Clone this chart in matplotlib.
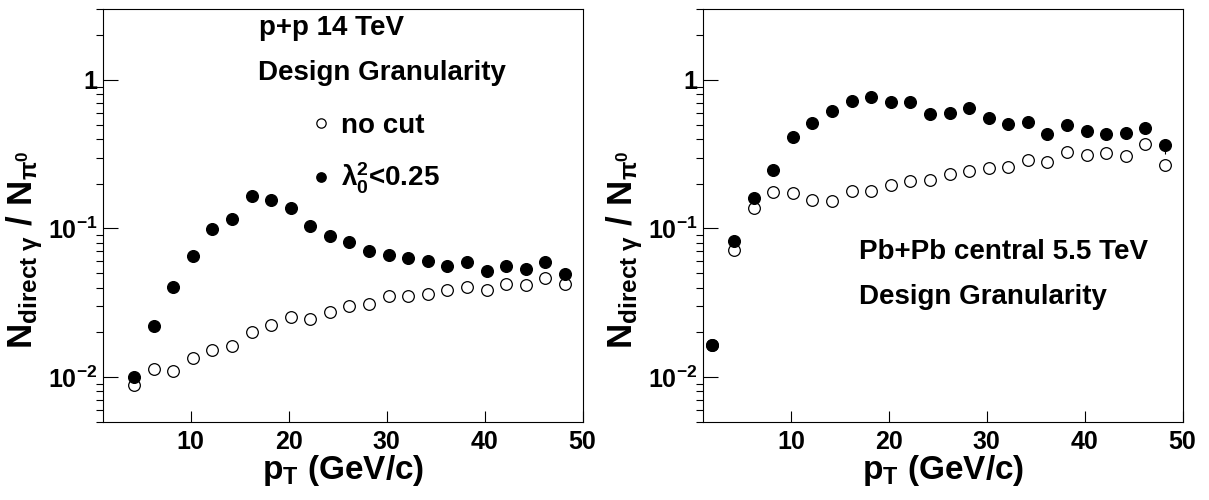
import matplotlib
matplotlib.use('Agg')
import math
import matplotlib.pyplot as plt
from matplotlib.ticker import FixedLocator, LogLocator, FuncFormatter, NullFormatter

plt.rcParams['font.family'] = 'Liberation Sans'
plt.rcParams['font.weight'] = 'bold'
plt.rcParams['axes.labelweight'] = 'bold'
plt.rcParams['mathtext.fontset'] = 'custom'
plt.rcParams['mathtext.rm'] = 'Liberation Sans:bold'
plt.rcParams['mathtext.it'] = 'Liberation Sans:bold'
plt.rcParams['mathtext.bf'] = 'Liberation Sans:bold'
plt.rcParams['mathtext.default'] = 'rm'

# p+p 14 TeV (left panel)
pt_pp = [4.2, 6.2, 8.2, 10.2, 12.2, 14.2, 16.2, 18.2, 20.2, 22.2, 24.2, 26.2,
         28.2, 30.2, 32.2, 34.2, 36.2, 38.2, 40.2, 42.2, 44.2, 46.2, 48.2]
pp_nocut = [0.0088, 0.0113, 0.0110, 0.0135, 0.0153, 0.0162, 0.0200, 0.0225,
            0.0253, 0.0247, 0.0275, 0.0300, 0.0309, 0.0350, 0.0352, 0.0362,
            0.0385, 0.0404, 0.0388, 0.0425, 0.0418, 0.0463, 0.0421]
pp_cut = [0.0100, 0.0221, 0.0402, 0.0649, 0.0985, 0.1154, 0.1655, 0.155,
          0.1368, 0.104, 0.0883, 0.0809, 0.0707, 0.0666, 0.0636, 0.0607,
          0.0556, 0.0594, 0.0514, 0.0561, 0.0531, 0.0594, 0.0491]

# Pb+Pb central 5.5 TeV (right panel)
pt_pbpb = [2.0, 4.2, 6.2, 8.2, 10.2, 12.2, 14.2, 16.2, 18.2, 20.2, 22.2, 24.2,
           26.2, 28.2, 30.2, 32.2, 34.2, 36.2, 38.2, 40.2, 42.2, 44.2, 46.2, 48.2]
pbpb_nocut = [0.0163, 0.0718, 0.137, 0.176, 0.173, 0.155, 0.153, 0.180,
              0.179, 0.196, 0.210, 0.211, 0.232, 0.245, 0.257, 0.259, 0.290,
              0.282, 0.325, 0.310, 0.320, 0.307, 0.368, 0.266]
pbpb_cut = [0.0165, 0.0826, 0.1604, 0.249, 0.412, 0.514, 0.615, 0.718, 0.769,
            0.711, 0.715, 0.591, 0.601, 0.645, 0.556, 0.501, 0.519, 0.431,
            0.499, 0.450, 0.434, 0.441, 0.473, 0.362]
pbpb_cut_err_last = (0.047, 0.02)

xticks = [10, 20, 30, 40, 50]
yticks = [0.01, 0.1, 1]


def ytick_fmt(v, pos):
    if v >= 1:
        return '1'
    return r'$10^{%d}$' % int(round(math.log10(v)))


def style(ax):
    ax.set_yscale('log')
    ax.set_xlim(1, 50)
    ax.set_ylim(0.005, 3)
    ax.xaxis.set_major_locator(FixedLocator(xticks))
    ax.yaxis.set_major_locator(FixedLocator(yticks))
    ax.yaxis.set_minor_locator(LogLocator(subs=range(2, 10)))
    ax.yaxis.set_major_formatter(FuncFormatter(ytick_fmt))
    ax.yaxis.set_minor_formatter(NullFormatter())
    ax.tick_params(direction='in', labelsize=18, width=0.8, top=False, right=False)
    ax.tick_params(axis='x', which='major', length=8, pad=6)
    ax.tick_params(axis='y', which='major', length=10.5, pad=4)
    ax.tick_params(axis='y', which='minor', length=5, width=0.8)
    for s in ax.spines.values():
        s.set_linewidth(0.8)
    ax.set_xlabel(r'$p_{T}$ (GeV/c)', fontsize=24)
    ax.xaxis.set_label_coords(0.5, -0.075)
    ax.set_ylabel(r'$N_{direct\ \gamma}\ /\ N_{\pi^{0}}$', fontsize=25)
    ax.yaxis.set_label_coords(-0.12, 0.418)


fig = plt.figure(figsize=(12.09, 5), dpi=100)
ax1 = fig.add_axes([0.0849, 0.1566, 0.397, 0.8254])
ax2 = fig.add_axes([0.5812, 0.1566, 0.397, 0.8254])

ms = 8.4
l_open, = ax1.plot(pt_pp, pp_nocut, 'o', ms=ms, mfc='white', mec='black', mew=0.9, ls='none')
l_fill, = ax1.plot(pt_pp, pp_cut, 'o', ms=ms, color='black', ls='none')
style(ax1)
ax1.text(0.326, 0.954, 'p+p 14 TeV', transform=ax1.transAxes, fontsize=20, va='center')
ax1.text(0.324, 0.845, 'Design Granularity', transform=ax1.transAxes, fontsize=20, va='center')
ax1.legend([l_open, l_fill], ['no cut', r'$\lambda_{0}^{2}$<0.25'], loc='center left',
           bbox_to_anchor=(0.431, 0.648), frameon=False, fontsize=20, markerscale=0.8,
           handlelength=0.8, handletextpad=0.35, labelspacing=0.8, borderpad=0,
           borderaxespad=0)

ax2.plot(pt_pbpb, pbpb_nocut, 'o', ms=ms, mfc='white', mec='black', mew=0.9, ls='none')
ax2.errorbar([pt_pbpb[-1]], [pbpb_cut[-1]], yerr=[[pbpb_cut_err_last[0]], [pbpb_cut_err_last[1]]],
             fmt='none', ecolor='black', elinewidth=0.8)
ax2.plot(pt_pbpb, pbpb_cut, 'o', ms=ms, color='black', ls='none')
style(ax2)
ax2.text(0.326, 0.412, 'Pb+Pb central 5.5 TeV', transform=ax2.transAxes, fontsize=20, va='center')
ax2.text(0.326, 0.303, 'Design Granularity', transform=ax2.transAxes, fontsize=20, va='center')

fig.savefig('out.png', dpi=100)
